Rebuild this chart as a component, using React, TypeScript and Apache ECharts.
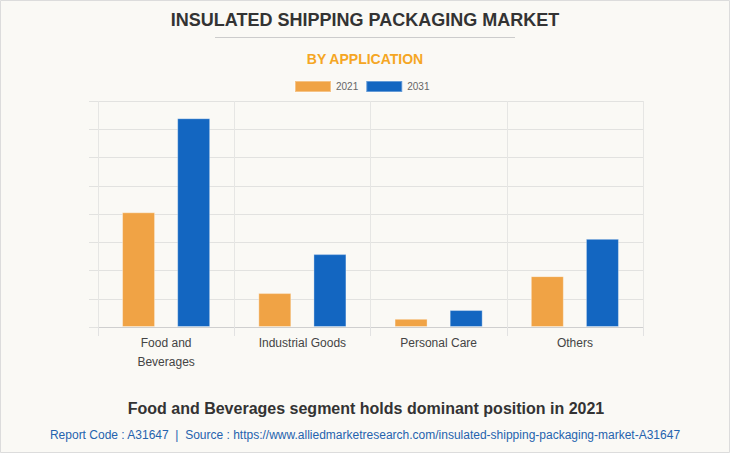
import React, { useEffect, useRef } from "react";
import * as echarts from "echarts";

const categories = ["Food and\nBeverages", "Industrial Goods", "Personal Care", "Others"];
const series2021 = [4.06, 1.2, 0.29, 1.8];
const series2031 = [7.39, 2.58, 0.6, 3.12];
const seriesNames = ["2021", "2031"];

const FONT = "'Liberation Sans', Arial, Helvetica, sans-serif";

export default function App() {
  const ref = useRef<HTMLDivElement>(null);
  useEffect(() => {
    document.body.style.margin = "0";
    const chart = echarts.init(ref.current!, null, { renderer: "svg" });
    chart.setOption({
      animation: false,
      backgroundColor: "#FAF9F5",
      textStyle: { fontFamily: FONT },
      legend: {
        top: 75,
        left: 289,
        itemWidth: 36,
        itemHeight: 11,
        itemGap: 7,
        icon: "rect",
        textStyle: { fontSize: 10, color: "#666", fontFamily: FONT },
        data: seriesNames,
      },
      grid: { left: 98, right: 87, top: 101, bottom: 126, containLabel: false },
      xAxis: {
        type: "category",
        data: categories,
        axisLine: { show: true, lineStyle: { color: "#cfcfcf", width: 1 } },
        axisTick: { show: true, length: 9, lineStyle: { color: "#e2e2e2" } },
        splitLine: { show: true, lineStyle: { color: "#e6e6e4" } },
        axisLabel: { fontSize: 12, color: "#444", lineHeight: 19, margin: 6, fontFamily: FONT, interval: 0 },
      },
      yAxis: {
        type: "value",
        min: 0,
        max: 8,
        interval: 1,
        axisLabel: { show: false },
        axisLine: { show: false },
        axisTick: { show: true, length: 9, lineStyle: { color: "#e2e2e0" } },
        splitLine: { show: true, lineStyle: { color: "#e2e2e0" } },
      },
      series: [
        {
          name: seriesNames[0],
          type: "bar",
          data: series2021,
          barWidth: 33,
          barGap: "67%",
          itemStyle: { color: "#F0A345", borderColor: "rgba(255,255,255,0.35)", borderWidth: 1 },
        },
        {
          name: seriesNames[1],
          type: "bar",
          data: series2031,
          barWidth: 33,
          itemStyle: { color: "#1366C1", borderColor: "rgba(255,255,255,0.35)", borderWidth: 1 },
        },
      ],
      graphic: [
        {
          type: "rect",
          shape: { x: 0.5, y: 0.5, width: 729, height: 452 },
          style: { fill: "none", stroke: "#dcdcdc", lineWidth: 1 },
          silent: true,
        },
        {
          type: "text",
          x: 365,
          y: 20,
          style: {
            text: "INSULATED SHIPPING PACKAGING MARKET",
            font: `bold 18px ${FONT}`,
            fill: "#333",
            textAlign: "center",
            textVerticalAlign: "middle",
          },
        },
        {
          type: "line",
          shape: { x1: 215, y1: 37.5, x2: 515, y2: 37.5 },
          style: { stroke: "#cccccc", lineWidth: 1 },
        },
        {
          type: "text",
          x: 365,
          y: 59,
          style: {
            text: "BY APPLICATION",
            font: `bold 14px ${FONT}`,
            fill: "#F5A623",
            textAlign: "center",
            textVerticalAlign: "middle",
          },
        },
        {
          type: "text",
          x: 366,
          y: 408,
          style: {
            text: "Food and Beverages segment holds dominant position in 2021",
            font: `bold 16px ${FONT}`,
            fill: "#333",
            textAlign: "center",
            textVerticalAlign: "middle",
          },
        },
        {
          type: "text",
          x: 365,
          y: 435,
          style: {
            text: "Report Code : A31647  |  Source : https://www.alliedmarketresearch.com/insulated-shipping-packaging-market-A31647",
            font: `12px ${FONT}`,
            fill: "#2563AE",
            textAlign: "center",
            textVerticalAlign: "middle",
          },
        },
      ],
    });
    return () => chart.dispose();
  }, []);
  return <div ref={ref} style={{ position: "fixed", left: 0, top: 0, width: 730, height: 453 }} />;
}
